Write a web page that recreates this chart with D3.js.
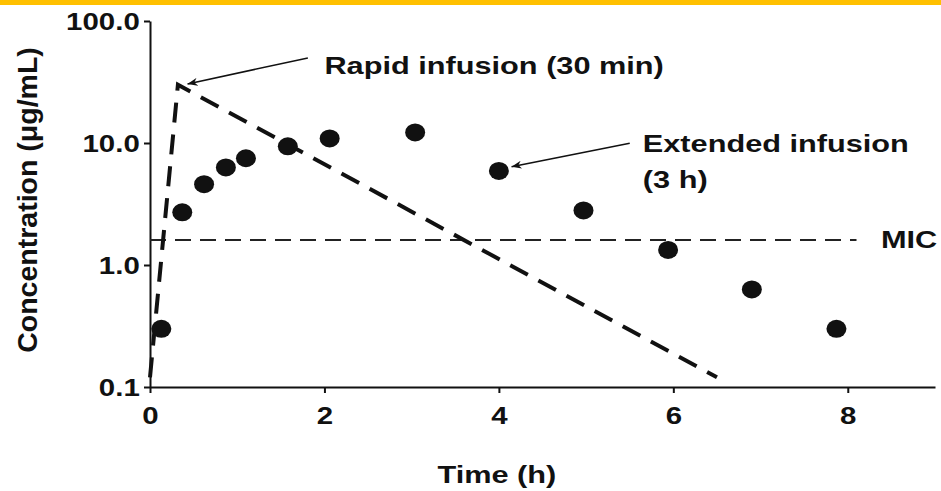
<!DOCTYPE html>
<html>
<head>
<meta charset="utf-8">
<script src="https://cdn.jsdelivr.net/npm/d3@7"></script>
<style>
  body { margin: 0; background: #fff; }
  svg { display: block; }
  text { font-family: "Liberation Sans", Arial, sans-serif; font-weight: bold; fill: #111; }
</style>
</head>
<body>
<svg id="chart" width="941" height="491"></svg>
<script>
// extended infusion (3 h) measured concentrations
var extTime = [0.13, 0.37, 0.62, 0.87, 1.1, 1.58, 2.06, 3.04, 4.0, 4.97, 5.94, 6.9, 7.87];
var extConc = [0.30, 2.7, 4.6, 6.3, 7.5, 9.4, 10.9, 12.2, 5.9, 2.8, 1.33, 0.63, 0.30];

// rapid infusion (30 min) profile
var rapidTime = [0, 0.32, 6.5];
var rapidConc = [0.12, 30, 0.12];

var micValue = 1.6;
var micTime = [0, 8.1];

var xTicks = [0, 2, 4, 6, 8];
var yTicks = [0.1, 1, 10, 100];
var yTickLabels = ['0.1', '1.0', '10.0', '100.0'];

var svg = d3.select('#chart'),
    width = +svg.attr('width'),
    height = +svg.attr('height');

var stretch = 1.28; // glyphs in the picture are wider than Arial

// orange strip on top
svg.append('rect')
    .attr('x', 0).attr('y', 0)
    .attr('width', width).attr('height', 5)
    .attr('fill', '#ffc000');

var x = d3.scaleLinear().domain([0, 9]).range([150, 935]);
var y = d3.scaleLog().domain([0.1, 100]).range([387, 21]);

var defs = svg.append('defs');
defs.append('marker')
    .attr('id', 'arrow')
    .attr('viewBox', '0 0 10 8')
    .attr('refX', 10).attr('refY', 4)
    .attr('markerWidth', 10).attr('markerHeight', 8)
    .attr('markerUnits', 'userSpaceOnUse')
    .attr('orient', 'auto')
  .append('path')
    .attr('d', 'M0,0 L10,4 L0,8 L3,4 z')
    .attr('fill', '#111');

// axes
var xAxis = svg.append('g')
    .attr('transform', 'translate(0,' + y(0.1) + ')')
    .call(d3.axisBottom(x).tickValues(xTicks).tickFormat(d3.format('d'))
        .tickSize(6).tickSizeOuter(0).tickPadding(15));

var yAxis = svg.append('g')
    .attr('transform', 'translate(' + x(0) + ',0)')
    .call(d3.axisLeft(y).tickValues(yTicks)
        .tickFormat((d, i) => yTickLabels[i])
        .tickSize(6).tickSizeOuter(0).tickPadding(2));

[xAxis, yAxis].forEach(function (ax) {
    ax.select('.domain').attr('stroke', '#111').attr('stroke-width', 2);
    ax.selectAll('.tick line').attr('stroke', '#111').attr('stroke-width', 2);
    ax.selectAll('.tick text')
        .style('font-size', '23px')
        .attr('fill', '#111')
        .attr('transform', 'scale(' + stretch + ',1)');
});
yAxis.selectAll('.tick text').attr('dy', '0.36em');

// MIC line
svg.append('line')
    .attr('x1', x(micTime[0])).attr('x2', x(micTime[1]))
    .attr('y1', y(micValue)).attr('y2', y(micValue))
    .attr('stroke', '#222')
    .attr('stroke-width', 2)
    .attr('stroke-dasharray', '16,9');

// rapid infusion line
var line = d3.line().x(d => x(d[0])).y(d => y(d[1]));
svg.append('path')
    .datum(d3.zip(rapidTime, rapidConc))
    .attr('d', line)
    .attr('fill', 'none')
    .attr('stroke', '#111')
    .attr('stroke-width', 4)
    .attr('stroke-dasharray', '20,12');

// extended infusion points
svg.append('g').selectAll('ellipse')
    .data(d3.zip(extTime, extConc))
    .enter().append('ellipse')
    .attr('cx', d => x(d[0]))
    .attr('cy', d => y(d[1]))
    .attr('rx', 10).attr('ry', 9)
    .attr('fill', '#111');

// annotations
function label(tx, ty, str, size) {
    return svg.append('text')
        .attr('transform', 'translate(' + tx + ',' + ty + ') scale(' + stretch + ',1)')
        .style('font-size', size + 'px')
        .text(str);
}

svg.append('line')
    .attr('x1', x(1.81)).attr('y1', y(49.8))
    .attr('x2', x(0.43)).attr('y2', y(30.5))
    .attr('stroke', '#111').attr('stroke-width', 1.5)
    .attr('marker-end', 'url(#arrow)');
label(x(2.0), y(37), 'Rapid infusion (30 min)', 24);

svg.append('line')
    .attr('x1', x(5.5)).attr('y1', y(9.94))
    .attr('x2', x(4.145)).attr('y2', y(6.4))
    .attr('stroke', '#111').attr('stroke-width', 1.5)
    .attr('marker-end', 'url(#arrow)');
label(x(5.65), y(8.5), 'Extended infusion', 24);
label(x(5.65), y(8.5) + 36, '(3 h)', 24);

label(x(8.38), y(micValue) + 8, 'MIC', 24);

// axis titles
svg.append('text')
    .attr('transform', 'translate(' + (x(4) - 2) + ',483) scale(' + stretch + ',1)')
    .attr('text-anchor', 'middle')
    .style('font-size', '24px')
    .text('Time (h)');

svg.append('text')
    .attr('transform', 'translate(37,200) rotate(-90)')
    .attr('text-anchor', 'middle')
    .style('font-size', '28.5px')
    .text('Concentration (μg/mL)');
</script>
</body>
</html>
